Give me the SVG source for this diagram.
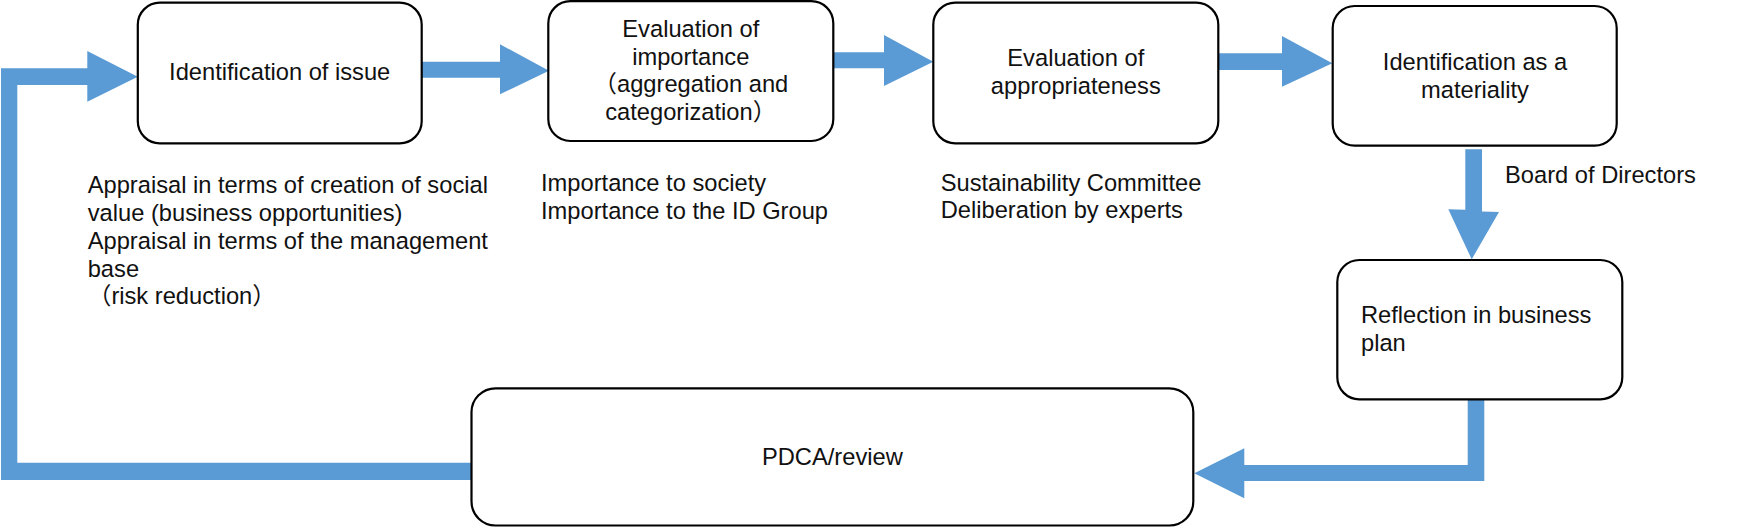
<svg xmlns="http://www.w3.org/2000/svg" width="1754" height="527" viewBox="0 0 1754 527">
<style>
.bg{fill:#ffffff}
.box{fill:#ffffff;stroke:#000000;stroke-width:2.2}
.conn{fill:#5b9bd5;stroke:none}
text{font-family:"Liberation Sans","Noto Sans CJK JP",sans-serif;font-size:23.7px;fill:#111111}
.c{text-anchor:middle}
</style>
<rect class="bg" x="0" y="0" width="1754" height="527"/>
<g id="connectors">
<polygon class="conn" points="471,462.7 17.3,462.7 17.3,85 87.3,85 87.3,101.7 137.8,76.7 87.3,51 87.3,68.3 1,68.3 1,480 471,480"/>
<polygon class="conn" points="421.7,61.7 500,61.7 500,44.3 549,70.7 500,94.3 500,77.7 421.7,77.7"/>
<polygon class="conn" points="833.3,52.3 884,52.3 884,35 933.3,61.7 884,86 884,68.3 833.3,68.3"/>
<polygon class="conn" points="1218.3,53.3 1282,53.3 1282,36 1332.3,63.3 1282,86.7 1282,70 1218.3,70"/>
<polygon class="conn" points="1465.3,149.3 1482,149.3 1482,211.5 1499,212 1471.7,259.3 1448.3,209.3 1465.3,209.8"/>
<polygon class="conn" points="1467.7,400 1484.3,400 1484.3,481 1244.3,481 1244.3,498.3 1194.3,473.3 1244.3,448.3 1244.3,465 1467.7,465"/>
</g>
<g id="node-identification-of-issue">
<rect class="box" x="137.8" y="2.7" width="283.9" height="140.6" rx="22" ry="22"/>
<text class="c" x="279.7" y="80">Identification of issue</text>
</g>
<g id="note-identification">
<text x="87.7" y="193.3">Appraisal in terms of creation of social</text>
<text x="87.7" y="221">value (business opportunities)</text>
<text x="87.7" y="249">Appraisal in terms of the management</text>
<text x="87.7" y="276.7">base</text>
<text x="87.7" y="304">（risk reduction）</text>
</g>
<g id="node-evaluation-of-importance">
<rect class="box" x="548.3" y="1.2" width="285" height="139.8" rx="22" ry="22"/>
<text class="c" x="690.8" y="36.7">Evaluation of</text>
<text class="c" x="690.8" y="65">importance</text>
<text class="c" x="690.8" y="91.7">（aggregation and</text>
<text class="c" x="690.8" y="120">categorization）</text>
</g>
<g id="note-importance">
<text x="541" y="191">Importance to society</text>
<text x="541" y="219.3">Importance to the ID Group</text>
</g>
<g id="node-evaluation-of-appropriateness">
<rect class="box" x="933.3" y="2.7" width="285" height="140.6" rx="22" ry="22"/>
<text class="c" x="1075.8" y="66">Evaluation of</text>
<text class="c" x="1075.8" y="93.5">appropriateness</text>
</g>
<g id="note-appropriateness">
<text x="940.7" y="191">Sustainability Committee</text>
<text x="940.7" y="218.3">Deliberation by experts</text>
</g>
<g id="node-identification-as-materiality">
<rect class="box" x="1332.7" y="6" width="284" height="139.7" rx="22" ry="22"/>
<text class="c" x="1475" y="70">Identification as a</text>
<text class="c" x="1475" y="98">materiality</text>
</g>
<g id="label-board">
<text x="1505" y="183.3">Board of Directors</text>
</g>
<g id="node-reflection-in-business-plan">
<rect class="box" x="1337.3" y="260" width="285" height="139.3" rx="22" ry="22"/>
<text x="1361" y="323.3">Reflection in business</text>
<text x="1361" y="351">plan</text>
</g>
<g id="node-pdca-review">
<rect class="box" x="471.5" y="388.3" width="721.8" height="137.2" rx="24" ry="24"/>
<text class="c" x="832.4" y="465">PDCA/review</text>
</g>
</svg>
